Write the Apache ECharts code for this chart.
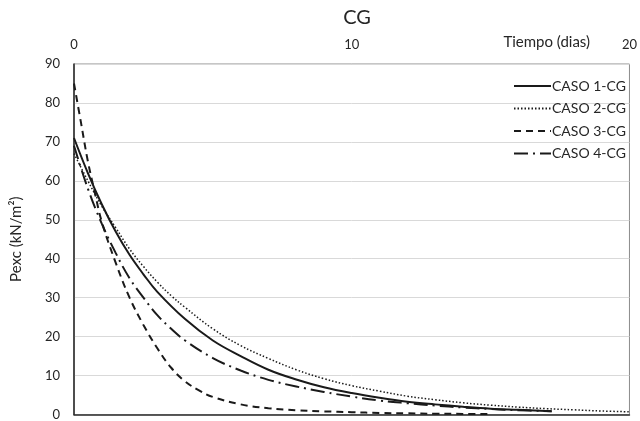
<!DOCTYPE html>
<html><head><meta charset="utf-8">
<script src="https://cdn.jsdelivr.net/npm/echarts@6/dist/echarts.min.js"></script>
<style>html,body{margin:0;padding:0;background:#fff}#c{width:640px;height:421px}</style>
</head><body><div id="c"></div>
<script>
const xTicks = [0, 10, 20];
const yTicks = [0, 10, 20, 30, 40, 50, 60, 70, 80, 90];
const seriesNames = ['CASO 1-CG', 'CASO 2-CG', 'CASO 3-CG', 'CASO 4-CG'];
const xAxisTitle = 'Tiempo (dias)';

const caso1T = [0,0.5,1,1.5,2,2.5,3,4,5,6,7,8,9,10,11,12,13,14,15,16,17.2];
const caso1V = [71,62,54,47,41,36,31.5,24.5,19,15,11.5,9,7,5.5,4.3,3.3,2.6,2.0,1.5,1.2,0.85];

const caso2T = [0,0.5,1,1.5,2,2.5,3,3.5,4,5,6,7,8,9,10,11,12,13,14,15,16,17,18,19,20];
const caso2V = [67,60,53.5,48,42.5,38,34,30.5,27.5,22,17.7,14.4,11.5,9.2,7.4,6.0,4.7,3.8,3.0,2.4,1.9,1.5,1.2,0.9,0.7];

const caso3T = [0,0.25,0.5,0.75,1,1.5,2,2.5,3,3.5,4,4.5,5,6,7,8,9,10,11,12,13,14,15];
const caso3V = [85,75,65,57,49.5,39,30,23,17,12,8.5,6.2,4.5,2.6,1.6,1.1,0.8,0.6,0.4,0.3,0.2,0.15,0.1];

const caso4T = [0,0.5,1,1.5,2,2.5,3,3.5,4,5,6,7,8,9,10,11,12,13,14,15,16,17.2];
const caso4V = [69,58,49,41.5,35,30,25.5,22,19,14.5,11.3,8.9,7.2,5.8,4.6,3.6,2.9,2.3,1.8,1.4,1.1,0.85];

const zip = (t, v) => t.map((x, i) => [x, v[i]]);
const FONT = 'Lato';
const styles = [
  {type: 'solid', width: 2},
  {type: [1.5, 2], width: 1.5},
  {type: [7, 5], width: 2},
  {type: [14, 5, 2, 5], width: 2}
];
const data = [zip(caso1T, caso1V), zip(caso2T, caso2V), zip(caso3T, caso3V), zip(caso4T, caso4V)];

const chart = echarts.init(document.getElementById('c'), null, {renderer: 'canvas'});
chart.setOption({
  animation: false,
  textStyle: {fontFamily: FONT, color: '#262626'},
  title: {text: 'CG', left: 352, textAlign: 'center', top: 3,
    textStyle: {fontFamily: FONT, fontSize: 20, fontWeight: 'normal', color: '#262626'}},
  grid: {left: 74, right: 10, top: 64, bottom: 4, show: true, borderColor: '#8c8c8c', borderWidth: 1},
  legend: {
    orient: 'vertical', left: 508, top: 74, itemWidth: 37, itemHeight: 14, itemGap: 8.5,
    data: seriesNames,
    itemStyle: {opacity: 0},
    textStyle: {fontFamily: FONT, fontSize: 14, color: '#262626', padding: [0,0,0,-4]}
  },
  graphic: [{
    type: 'text', right: 50, top: 35,
    style: {text: xAxisTitle, fontFamily: FONT, fontSize: 15, fill: '#262626'}
  }],
  xAxis: {
    type: 'value', position: 'top', min: 0, max: 20, interval: 10,
    axisLine: {show: true, lineStyle: {color: '#262626', width: 1.5}},
    axisTick: {show: false},
    splitLine: {show: false},
    axisLabel: {fontFamily: FONT, fontSize: 13, color: '#262626', margin: 13,
      formatter: v => xTicks.includes(v) ? String(v) : ''}
  },
  yAxis: {
    type: 'value', min: 0, max: 90, interval: 10,
    name: 'Pexc (kN/m²)', nameLocation: 'middle', nameGap: 50,
    nameTextStyle: {fontFamily: FONT, fontSize: 15, color: '#262626'},
    axisLine: {show: true, lineStyle: {color: '#262626', width: 1.5}},
    axisTick: {show: false},
    splitLine: {show: true, lineStyle: {color: '#d9d9d9', width: 1}},
    axisLabel: {fontFamily: FONT, fontSize: 13, color: '#262626', margin: 14,
      formatter: v => yTicks.includes(v) ? String(v) : ''}
  },
  series: seriesNames.map((n, i) => ({
    name: n, type: 'line', data: data[i], smooth: 0.4, symbol: 'none',
    lineStyle: {color: '#1a1a1a', width: styles[i].width, type: styles[i].type},
    itemStyle: {color: '#1a1a1a'}
  }))
});
</script></body></html>
